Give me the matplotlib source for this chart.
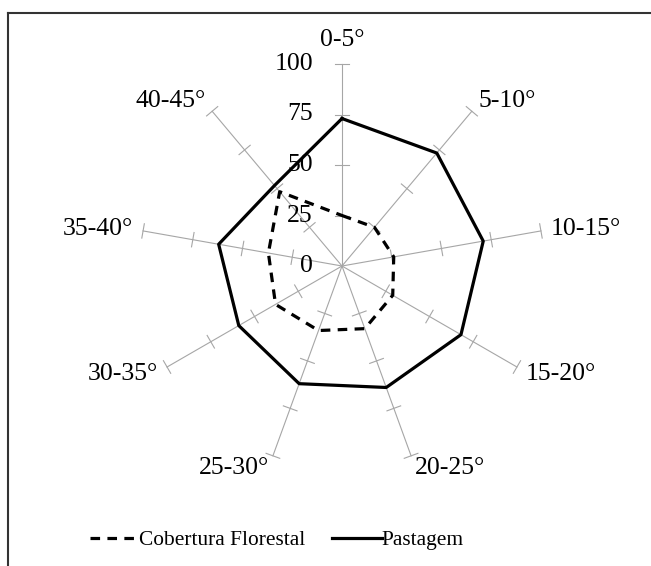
import numpy as np
import matplotlib
matplotlib.use("Agg")
import matplotlib.pyplot as plt
from matplotlib.lines import Line2D

# slope classes (clockwise from the top)
categories = ["0-5°", "5-10°", "10-15°", "15-20°", "20-25°",
              "25-30°", "30-35°", "35-40°", "40-45°"]
floresta = [25, 25, 26, 29, 33, 34, 38, 37, 48]
pastagem = [73, 73, 71, 68, 64, 62, 59, 62, 52]
rings = [0, 25, 50, 75, 100]

plt.rcParams["font.family"] = ["Liberation Serif", "DejaVu Serif"]

W, H = 651, 566
CX, CY, PX = 342, 266, 2.02  # centre pixel and pixels per unit

fig = plt.figure(figsize=(W / 100, H / 100), dpi=100)
ax = fig.add_axes([0, 0, 1, 1])
ax.set_xlim(-CX / PX, (W - CX) / PX)
ax.set_ylim(-(H - CY) / PX, CY / PX)
ax.axis("off")

theta = np.arange(len(categories)) * 2 * np.pi / len(categories)
sx, cy = np.sin(theta), np.cos(theta)
grey = "#a6a6a6"

# spokes and their small cross ticks
for s, c in zip(sx, cy):
    ax.plot([0, 100 * s], [0, 100 * c], color=grey, lw=0.8, zorder=1)
    for r in rings[1:]:
        px, py = r * s, r * c
        ax.plot([px - 3.6 * c, px + 3.6 * c], [py + 3.6 * s, py - 3.6 * s],
                color=grey, lw=0.8, zorder=1)

def closed(vals):
    v = np.asarray(vals, dtype=float)
    x, y = v * sx, v * cy
    return np.append(x, x[0]), np.append(y, y[0])

x, y = closed(floresta)
ax.plot(x, y, color="black", lw=2.3, dashes=(3, 2.3), zorder=3)
x, y = closed(pastagem)
ax.plot(x, y, color="black", lw=2.3, zorder=3)

# value labels along the top spoke
for r in rings:
    ax.text(-14.4, r, str(r), ha="right", va="center", fontsize=18.5)

# category labels
for lab, s, c in zip(categories, sx, cy):
    if c > 0.95:
        ax.text(0, 112, lab, ha="center", va="center", fontsize=18.5)
        continue
    ha = "left" if s > 0 else "right"
    ax.text(105 * s, 104 * c + 2.5 * c, lab, ha=ha, va="center",
            fontsize=18.5)

# frame (cropped at right and bottom in the original)
fig.add_artist(Line2D([7.5 / W, 7.5 / W], [0, 1 - 12.7 / H], color="#333333",
                      lw=1.5, transform=fig.transFigure))
fig.add_artist(Line2D([7.5 / W, 1], [1 - 12.7 / H, 1 - 12.7 / H], color="#333333",
                      lw=1.5, transform=fig.transFigure))

handles = [Line2D([], [], color="black", lw=2.3, dashes=(3, 2.3)),
           Line2D([], [], color="black", lw=2.3)]
fig.legend(handles, ["Cobertura Florestal", "Pastagem"], ncol=2, frameon=False,
           loc="center", bbox_to_anchor=(277 / W, 1 - 540 / H), fontsize=15.4,
           handlelength=2.3, handletextpad=0.0, columnspacing=1.25)

fig.savefig("out.png", dpi=100)
